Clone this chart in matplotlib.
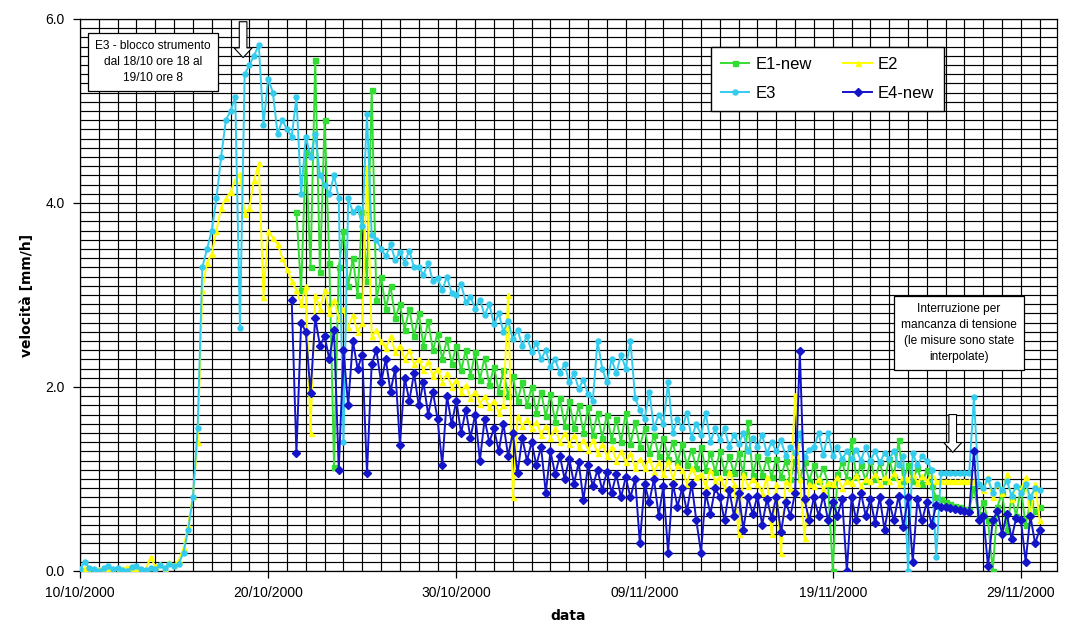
import numpy as np
import pandas as pd
import matplotlib
matplotlib.use('Agg')
import matplotlib.pyplot as plt
import matplotlib.dates as mdates
from matplotlib.ticker import MultipleLocator, FormatStrFormatter

# readings every 6 hours, velocity in mm/h
e3_start = '2000-10-10 00:00'
e3 = [0.02, 0.10, 0.03, 0.02, 0.00, 0.03, 0.05, 0.02,
      0.03, 0.01, 0.00, 0.04, 0.05, 0.02, 0.01, 0.03,
      0.02, 0.06, 0.03, 0.08, 0.05, 0.08, 0.20, 0.45,
      0.80, 1.55, 3.30, 3.50, 3.70, 4.05, 4.50, 4.90,
      5.00, 5.15, 2.64, 5.40, 5.50, 5.60, 5.72, 4.85,
      5.35, 5.20, 4.75, 4.90, 4.80, 4.72, 5.15, 4.10,
      4.72, 4.50, 4.75, 4.30, 4.20, 4.10, 4.30, 4.05,
      1.40, 4.05, 3.90, 3.95, 3.75, 4.97, 3.65, 3.60,
      3.50, 3.42, 3.55, 3.38, 3.47, 3.35, 3.48, 3.30,
      3.30, 3.22, 3.35, 3.15, 3.18, 3.05, 3.20, 3.02,
      3.00, 3.12, 2.92, 2.98, 2.85, 2.95, 2.78, 2.90,
      2.68, 2.80, 2.60, 2.72, 2.52, 2.62, 2.45, 2.55,
      2.38, 2.48, 2.30, 2.40, 2.22, 2.30, 2.15, 2.25,
      2.05, 2.15, 1.98, 2.08, 1.92, 1.85, 2.50, 2.20,
      2.05, 2.30, 2.15, 2.35, 2.20, 2.50, 1.88, 1.75,
      1.65, 1.95, 1.55, 1.70, 1.60, 2.05, 1.50, 1.65,
      1.55, 1.72, 1.45, 1.60, 1.48, 1.72, 1.40, 1.55,
      1.42, 1.55, 1.35, 1.48, 1.38, 1.50, 1.30, 1.45,
      1.35, 1.48, 1.28, 1.40, 1.30, 1.42, 1.25, 1.35,
      1.28, 1.50, 1.24, 1.32, 1.35, 1.50, 1.26, 1.50,
      1.25, 1.35, 1.22, 1.30, 1.22, 1.32, 1.20, 1.35,
      1.20, 1.30, 1.18, 1.28, 1.22, 1.30, 1.15, 1.25,
      0.00, 1.28, 1.15, 1.25, 1.20, 1.10, 0.15, 1.06,
      1.06, 1.06, 1.06, 1.06, 1.06, 1.06, 1.89, 0.95,
      0.90, 1.00, 0.85, 0.95, 0.88, 0.98, 0.82, 0.92,
      0.85, 0.95, 0.80, 0.90, 0.88]

e2_start = '2000-10-10 00:00'
e2 = [0.01, 0.03, 0.00, 0.02, 0.02, 0.00, 0.03, 0.01,
      0.00, 0.02, 0.04, 0.01, 0.03, 0.00, 0.02, 0.15,
      0.05, 0.08, 0.02, 0.10, 0.06, 0.12, 0.25, 0.50,
      0.82, 1.40, 3.05, 3.35, 3.45, 3.70, 3.95, 4.05,
      4.12, 4.25, 4.32, 3.88, 3.95, 4.25, 4.43, 2.98,
      3.70, 3.62, 3.55, 3.40, 3.28, 3.15, 3.05, 2.90,
      3.10, 1.50, 3.00, 2.85, 3.05, 2.80, 2.95, 2.75,
      2.85, 2.65, 2.78, 2.60, 2.70, 4.39, 2.55, 2.62,
      2.50, 2.42, 2.55, 2.38, 2.45, 2.30, 2.40, 2.25,
      2.30, 2.18, 2.28, 2.12, 2.20, 2.05, 2.15, 2.00,
      2.08, 1.95, 2.02, 1.88, 1.95, 1.82, 1.90, 1.78,
      1.85, 1.72, 1.80, 3.00, 0.80, 1.68, 1.58, 1.65,
      1.55, 1.62, 1.48, 1.58, 1.45, 1.55, 1.40, 1.50,
      1.38, 1.48, 1.35, 1.42, 1.32, 1.42, 1.28, 1.38,
      1.25, 1.35, 1.20, 1.30, 1.18, 1.28, 1.12, 1.22,
      1.12, 1.22, 1.08, 1.18, 1.05, 1.20, 1.00, 1.15,
      1.10, 0.95, 1.12, 1.02, 1.05, 0.92, 1.10, 0.98,
      1.02, 0.90, 1.08, 0.95, 0.40, 1.05, 0.92, 1.00,
      0.95, 0.85, 1.02, 0.40, 0.95, 0.20, 0.98, 0.90,
      1.91, 1.00, 0.36, 0.95, 0.92, 1.00, 0.88, 0.96,
      0.95, 1.02, 0.90, 0.98, 0.96, 1.04, 0.92, 1.00,
      0.98, 1.05, 0.94, 1.02, 0.98, 1.06, 0.95, 1.02,
      1.00, 1.05, 0.96, 1.03, 0.98, 1.04, 0.98, 0.98,
      0.98, 0.98, 0.98, 0.98, 0.98, 0.98, 0.98, 0.96,
      0.88, 1.02, 0.80, 0.95, 0.85, 1.05, 0.78, 0.92,
      0.88, 1.02, 0.60, 0.95, 0.55]

e1_start = '2000-10-21 12:00'
e1 = [3.90, 3.05,
      4.55, 3.30, 5.55, 3.25, 4.90, 3.35, 1.13, 3.30,
      3.70, 3.10, 3.40, 3.00, 3.90, 3.15, 5.23, 2.95,
      3.20, 2.85, 3.10, 2.75, 2.90, 2.62, 2.85, 2.55,
      2.80, 2.45, 2.72, 2.40, 2.58, 2.30, 2.52, 2.25,
      2.45, 2.18, 2.40, 2.12, 2.38, 2.08, 2.32, 2.02,
      2.22, 1.95, 2.18, 1.90, 2.12, 1.85, 2.05, 1.80,
      2.00, 1.72, 1.95, 1.68, 1.92, 1.62, 1.88, 1.58,
      1.85, 1.55, 1.80, 1.50, 1.78, 1.48, 1.72, 1.45,
      1.70, 1.42, 1.65, 1.40, 1.72, 1.38, 1.62, 1.35,
      1.55, 1.28, 1.48, 1.25, 1.45, 1.22, 1.40, 1.18,
      1.38, 1.15, 1.32, 1.12, 1.35, 1.10, 1.28, 1.08,
      1.30, 1.08, 1.25, 1.06, 1.28, 1.05, 1.62, 1.04,
      1.25, 1.04, 1.22, 1.02, 1.22, 1.02, 1.20, 1.00,
      1.20, 1.00, 1.18, 0.98, 1.15, 0.98, 1.12, 0.95,
      0.00, 1.05, 1.18, 1.00, 1.42, 1.02, 1.15, 0.98,
      1.20, 1.00, 1.18, 0.98, 1.22, 1.02, 1.42, 0.98,
      1.15, 0.98, 1.12, 0.95, 1.10, 0.92, 0.80, 0.78,
      0.75, 0.73, 0.71, 0.69, 0.67, 0.66, 0.90, 0.62,
      0.75, 0.55, 0.00, 0.70, 0.85, 0.45, 0.80, 0.60,
      0.90, 0.50, 0.75, 0.65, 0.70]

e4_start = '2000-10-21 06:00'
e4 = [2.95, 1.28, 2.70,
      2.60, 1.93, 2.75, 2.45, 2.55, 2.30, 2.62, 1.10,
      2.40, 1.80, 2.50, 2.20, 2.35, 1.06, 2.25, 2.40,
      2.05, 2.30, 1.95, 2.20, 1.37, 2.10, 1.85, 2.15,
      1.80, 2.05, 1.70, 1.95, 1.65, 1.15, 1.90, 1.60,
      1.85, 1.50, 1.75, 1.45, 1.70, 1.20, 1.65, 1.40,
      1.55, 1.30, 1.60, 1.25, 1.50, 1.06, 1.45, 1.20,
      1.40, 1.15, 1.35, 0.85, 1.30, 1.05, 1.25, 1.00,
      1.22, 0.95, 1.18, 0.77, 1.15, 0.92, 1.10, 0.88,
      1.08, 0.85, 1.05, 0.80, 1.02, 0.80, 1.00, 0.30,
      0.95, 0.75, 1.00, 0.60, 0.92, 0.20, 0.95, 0.70,
      0.90, 0.65, 0.95, 0.55, 0.20, 0.85, 0.62, 0.90,
      0.80, 0.55, 0.88, 0.60, 0.85, 0.45, 0.80, 0.62,
      0.82, 0.50, 0.78, 0.58, 0.80, 0.42, 0.75, 0.60,
      0.85, 2.39, 0.78, 0.55, 0.80, 0.60, 0.82, 0.55,
      0.75, 0.60, 0.78, 0.00, 0.80, 0.55, 0.85, 0.60,
      0.78, 0.52, 0.80, 0.45, 0.75, 0.55, 0.82, 0.48,
      0.80, 0.10, 0.78, 0.55, 0.75, 0.50, 0.72, 0.70,
      0.69, 0.68, 0.67, 0.66, 0.65, 0.64, 1.30, 0.55,
      0.60, 0.05, 0.55, 0.65, 0.40, 0.62, 0.35, 0.58,
      0.55, 0.10, 0.60, 0.30, 0.45]

tick_dates = pd.date_range('2000-10-10', periods=6, freq='10D')
x_min = pd.Timestamp('2000-10-10')
x_max = pd.Timestamp('2000-11-30 22:00')

note_e3 = 'E3 - blocco strumento\ndal 18/10 ore 18 al\n19/10 ore 8'
note_power = 'Interruzione per\nmancanza di tensione\n(le misure sono state\ninterpolate)'
arrow_e3 = (pd.Timestamp('2000-10-18 16:00'), 5.97, 5.58)
arrow_power = (pd.Timestamp('2000-11-25 09:00'), 1.70, 1.29)

series = [
    ('E1-new', e1_start, e1, '#33dd33', 's'),
    ('E2', e2_start, e2, '#ffff00', '^'),
    ('E3', e3_start, e3, '#33ccee', 'o'),
    ('E4-new', e4_start, e4, '#1414c8', 'D'),
]

plt.rcParams['font.family'] = ['Liberation Sans', 'DejaVu Sans']

fig = plt.figure(figsize=(10.84, 6.28), dpi=100)
ax = fig.add_axes([0.0738, 0.0908, 0.9013, 0.879])

lines = {}
for name, start, vals, col, mk in series:
    t = pd.date_range(start, periods=len(vals), freq='6h')
    ln, = ax.plot(t, vals, color=col, marker=mk, markersize=3.6, linewidth=1.4,
                  label=name, zorder=3)
    lines[name] = ln

ax.set_xlim(x_min, x_max)
ax.set_ylim(0, 6)
ax.set_xticks(tick_dates)
ax.xaxis.set_major_formatter(mdates.DateFormatter('%d/%m/%Y'))
ax.xaxis.set_minor_locator(mdates.DayLocator())
ax.yaxis.set_major_locator(MultipleLocator(2.0))
ax.yaxis.set_minor_locator(MultipleLocator(0.1))
ax.yaxis.set_major_formatter(FormatStrFormatter('%.1f'))

ax.set_axisbelow(True)
ax.grid(which='both', color='black', linewidth=0.85)
ax.tick_params(which='major', length=5, width=0.9, labelsize=10, pad=6)
ax.tick_params(which='minor', length=0)
for sp in ax.spines.values():
    sp.set_color('black')
    sp.set_linewidth(0.9)

ax.set_xlabel('data', fontsize=10, fontweight='bold', family='DejaVu Sans', labelpad=6)
ax.set_ylabel('velocità [mm/h]', fontsize=10, fontweight='bold', family='DejaVu Sans', labelpad=8)

# rows: E1-new / E2, then E3 / E4-new (legend fills column by column)
order = ['E1-new', 'E3', 'E2', 'E4-new']
leg = ax.legend([lines[k] for k in order], order, ncol=2, loc='upper left',
                bbox_to_anchor=(0.646, 0.949), borderaxespad=0, fontsize=12,
                frameon=True, fancybox=False, framealpha=1, edgecolor='black',
                handlelength=1.7, handletextpad=0.35, columnspacing=1.9,
                borderpad=0.6, labelspacing=0.85)
leg.get_frame().set_linewidth(1.0)

box = dict(boxstyle='square,pad=0.6', fc='white', ec='black', lw=0.9)
ax.text(0.0747, 0.922, note_e3, transform=ax.transAxes, ha='center', va='center',
        fontsize=8.6, bbox=box, zorder=6, linespacing=1.45)
ax.text(0.8997, 0.431, note_power, transform=ax.transAxes, ha='center', va='center',
        fontsize=8.6, bbox=box, zorder=6, linespacing=1.45)

arrow_style = dict(arrowstyle='simple,head_length=0.7,head_width=1.3,tail_width=0.55',
                   fc='white', ec='black', lw=0.8, mutation_scale=10,
                   shrinkA=0, shrinkB=0)
for xd, y0, y1 in [arrow_e3, arrow_power]:
    ax.annotate('', xy=(xd, y1), xytext=(xd, y0), arrowprops=arrow_style, zorder=7)

fig.savefig('out.png', dpi=100)
